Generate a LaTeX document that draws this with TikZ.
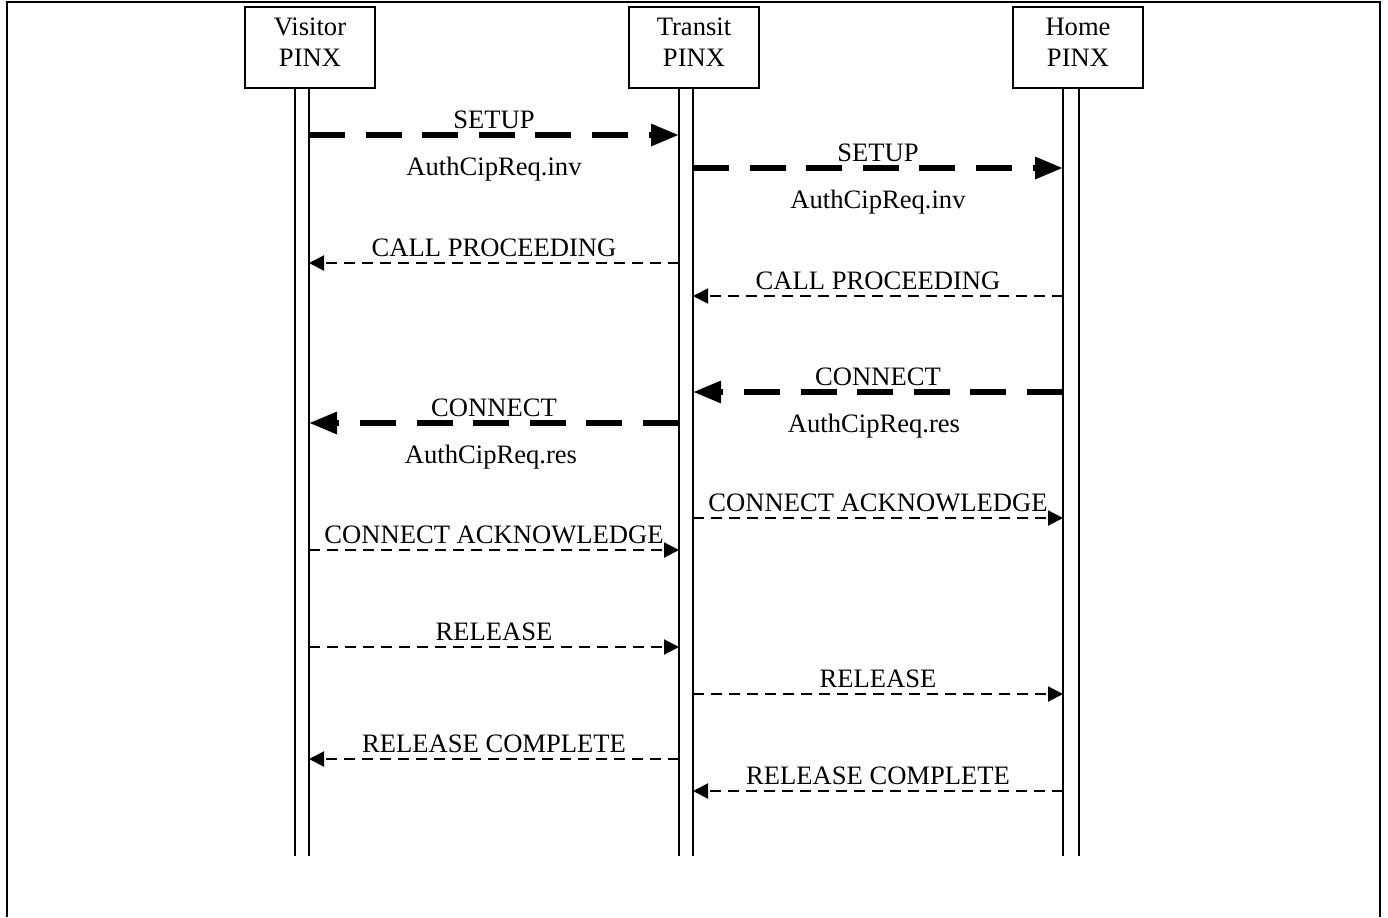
\documentclass[tikz,border=0pt]{standalone}
\usepackage{fontspec}
\setmainfont{Liberation Serif}
\usetikzlibrary{arrows.meta}

\begin{document}
\begin{tikzpicture}[x=0.5pt, y=-0.5pt, node distance=192pt, font=\fontsize{13.3}{15.5}\selectfont]
                    \tikzstyle{pinx} = [draw, rectangle, line width=1pt, minimum width=65pt, minimum height=40.5pt, align=center, text depth=5pt]
                    \tikzstyle{life} = [draw, line width=1pt]
                    \tikzstyle{bigline} = [draw, line width=3pt, dash pattern=on 18pt off 10.3pt, -{Triangle[length=14pt, width=10.5pt]}]
                    \tikzstyle{line} = [draw, line width=1pt, dash pattern=on 5.5pt off 3.5pt, -{Triangle[length=7.5pt, width=7.5pt]}]
                    \tikzstyle{msg} = [anchor=base, inner sep=0pt, yshift=3.5pt]
                    \tikzstyle{param} = [anchor=base, inner sep=0pt, yshift=-20pt]

                    \useasboundingbox (0,0) rectangle (1388,917);
                    \draw [line width=1pt] (7,917) -- (7,2) -- (1380,2) -- (1380,917);

                    \node [pinx] at (310,47.5) (visitor) {Visitor\\PINX};
                    \node [pinx, right of=visitor] (transit) {Transit\\PINX};
                    \node [pinx, right of=transit] (home) {Home\\PINX};

                    % lifelines
                    \coordinate (vL) at ([xshift=-7.5pt]visitor.south);
                    \coordinate (vR) at ([xshift=-0.5pt]visitor.south);
                    \coordinate (tL) at ([xshift=-7.5pt]transit.south);
                    \coordinate (tR) at ([xshift=-0.5pt]transit.south);
                    \coordinate (hL) at ([xshift=-7.5pt]home.south);
                    \coordinate (hR) at ([xshift=0.5pt]home.south);
                    \path [life] (vL) -- ++(0,767) (vR) -- ++(0,767);
                    \path [life] (tL) -- ++(0,767) (tR) -- ++(0,767);
                    \path [life] (hL) -- ++(0,767) (hR) -- ++(0,767);

                    % messages
                    \path [bigline] (vR |- 0,135) -- node [msg] {SETUP} node [param] {AuthCipReq.inv} (tL |- 0,135);
                    \path [bigline] (tR |- 0,168) -- node [msg] {SETUP} node [param] {AuthCipReq.inv} (hL |- 0,168);
                    \path [line] (tL |- 0,263) -- node [msg] {CALL PROCEEDING} (vR |- 0,263);
                    \path [line] (hL |- 0,296) -- node [msg] {CALL PROCEEDING} (tR |- 0,296);
                    \path [bigline] (hL |- 0,392) -- node [msg] {CONNECT} node [param, xshift=-2pt] {AuthCipReq.res} (tR |- 0,392);
                    \path [bigline] (tL |- 0,423) -- node [msg] {CONNECT} node [param, xshift=-1.5pt] {AuthCipReq.res} (vR |- 0,423);
                    \path [line] (tR |- 0,518) -- node [msg] {CONNECT ACKNOWLEDGE} (hL |- 0,518);
                    \path [line] (vR |- 0,550) -- node [msg] {CONNECT ACKNOWLEDGE} (tL |- 0,550);
                    \path [line] (vR |- 0,647) -- node [msg] {RELEASE} (tL |- 0,647);
                    \path [line] (tR |- 0,694) -- node [msg] {RELEASE} (hL |- 0,694);
                    \path [line] (tL |- 0,759) -- node [msg] {RELEASE COMPLETE} (vR |- 0,759);
                    \path [line] (hL |- 0,791) -- node [msg] {RELEASE COMPLETE} (tR |- 0,791);
                \end{tikzpicture}
\end{document}
